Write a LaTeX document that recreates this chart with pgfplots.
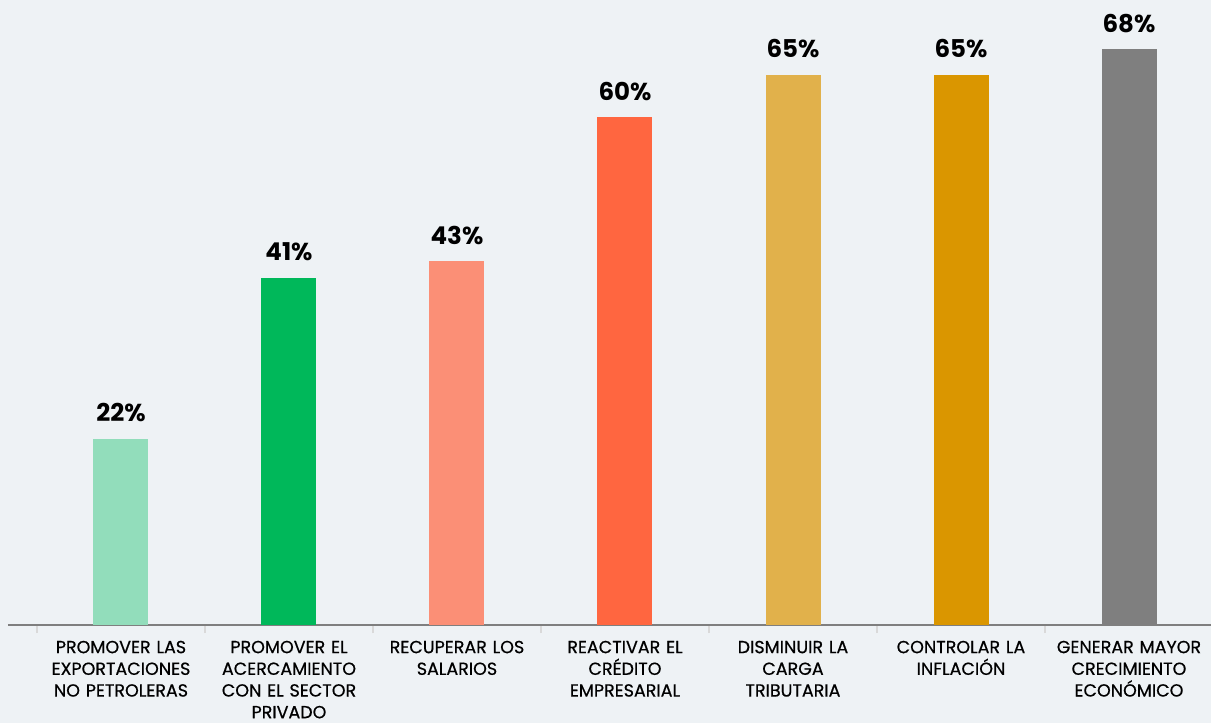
\documentclass[border=0pt]{standalone}
\usepackage{pgfplots}
\pgfplotsset{compat=1.18}
\usepackage{fontspec}
\setmainfont{Poppins}
\newfontfamily\pmed{Poppins}[FakeBold=0.6]
\definecolor{bg}{HTML}{EEF2F5}
\definecolor{c1}{HTML}{92DDBB}
\definecolor{c2}{HTML}{00B85A}
\definecolor{c3}{HTML}{FB8F76}
\definecolor{c4}{HTML}{FF6640}
\definecolor{c5}{HTML}{E1B14B}
\definecolor{c6}{HTML}{DA9600}
\definecolor{c7}{HTML}{7F7F7F}
\begin{document}
\begin{tikzpicture}
\path[use as bounding box, fill=bg] (-8pt,-98pt) rectangle (1203pt,625pt);
\begin{axis}[
  scale only axis, width=1203pt, height=625pt,
  xmin=-0.6726, xmax=6.488, ymin=0, ymax=73.8,
  axis y line=none, axis x line*=bottom,
  x axis line style={draw=c7, line width=2.5pt, -},
  xtick={0,1,2,3,4,5,6},
  xticklabels={{PROMOVER LAS\\EXPORTACIONES\\NO PETROLERAS},
    {PROMOVER EL\\ACERCAMIENTO\\CON EL SECTOR\\PRIVADO},
    {RECUPERAR LOS\\SALARIOS},
    {REACTIVAR EL\\CRÉDITO\\EMPRESARIAL},
    {DISMINUIR LA\\CARGA\\TRIBUTARIA},
    {CONTROLAR LA\\INFLACIÓN},
    {GENERAR MAYOR\\CRECIMIENTO\\ECONÓMICO}},
  major x tick style={draw=none},
  minor xtick={-0.5,0.5,1.5,2.5,3.5,4.5,5.5},
  minor x tick style={draw=black!15, line width=1.5pt},
  minor tick length=8pt, tick align=outside,
  xticklabel style={text width=175pt, align=center, anchor=north, yshift=-8pt,
    font=\pmed\fontsize{17.5}{21.7}\selectfont, text=black},
  ybar, bar width=55pt,
  every axis plot/.append style={bar shift=0pt, draw=none},
  nodes near coords={\pgfmathprintnumber[assume math mode=true]{\pgfplotspointmeta}\%},
  every node near coord/.append style={font=\fontsize{24.5}{26}\bfseries\selectfont, text=black, anchor=south, yshift=13pt},
  clip=false,
]
\addplot[fill=c1] coordinates {(0,22)};
\addplot[fill=c2] coordinates {(1,41)};
\addplot[fill=c3] coordinates {(2,43)};
\addplot[fill=c4] coordinates {(3,60)};
\addplot[fill=c5] coordinates {(4,65)};
\addplot[fill=c6] coordinates {(5,65)};
\addplot[fill=c7] coordinates {(6,68)};
\end{axis}
\end{tikzpicture}
\end{document}
